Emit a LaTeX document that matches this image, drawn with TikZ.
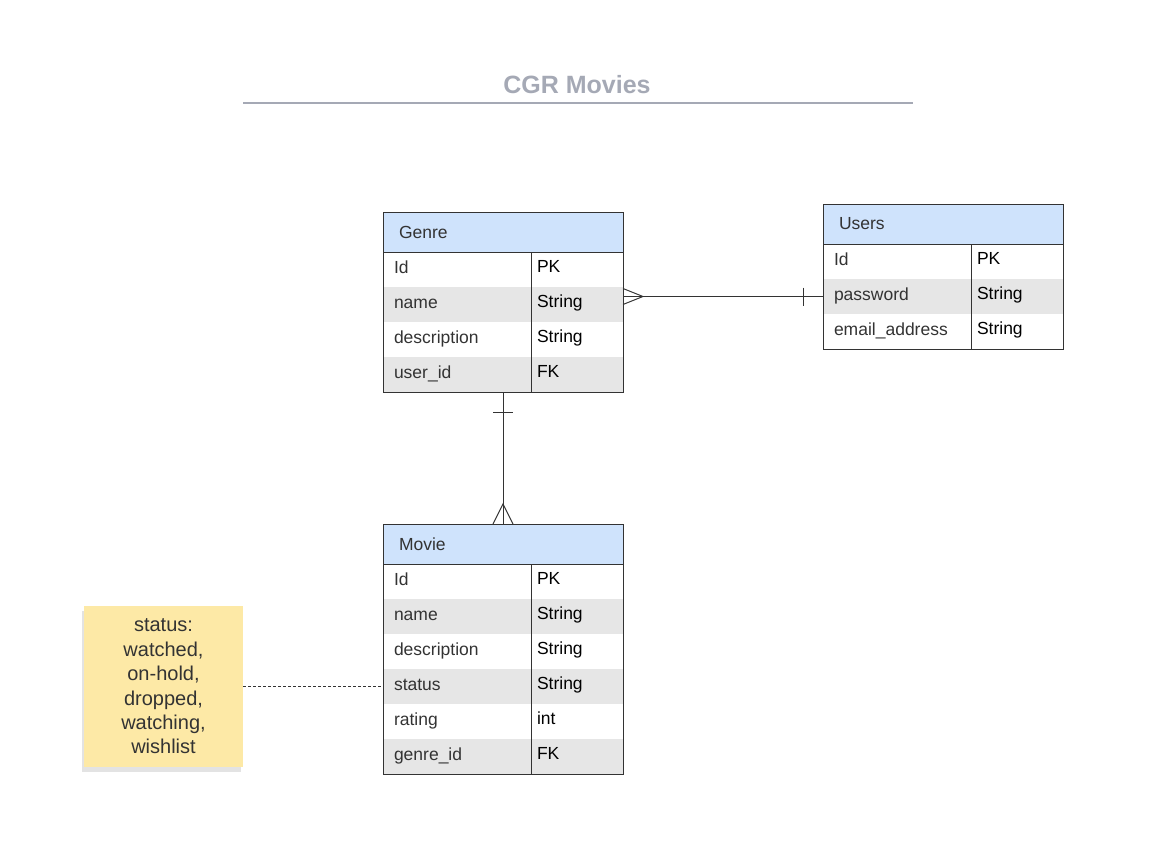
\documentclass[tikz,border=0pt]{standalone}
\usepackage{fontspec}
\setmainfont{Liberation Sans}
\usetikzlibrary{positioning,shadows}
\definecolor{hdrblue}{HTML}{CFE3FC}
\definecolor{rowgray}{HTML}{E6E6E6}
\definecolor{notey}{HTML}{FDE9A6}
\definecolor{titlegray}{HTML}{A5A9B5}
\definecolor{ink}{HTML}{333333}
\newcommand\cellfont{\fontsize{17.5}{20}\selectfont}
\tikzset{
  tblhead/.style={draw=ink, line width=1pt, fill=hdrblue, minimum width=240pt,
    minimum height=40pt, text width=208pt, inner xsep=16pt, inner ysep=0pt,
    outer sep=0pt, align=left, text=ink, font=\cellfont},
  fieldcell/.style={minimum height=35pt, text width=126pt, inner xsep=11pt,
    inner ysep=0pt, outer sep=0pt, align=left, text=ink, text height=12pt,
    text depth=4pt, font=\cellfont},
  typecell/.style={minimum height=35pt, text width=80pt, inner xsep=6pt,
    inner ysep=0pt, outer sep=0pt, align=left, text=black, text height=12pt,
    text depth=6pt, font=\cellfont},
  shaded/.style={fill=rowgray},
  frame/.style={draw=ink, line width=1pt},
  rel/.style={draw=ink, line width=1pt},
  stickynote/.style={fill=notey, minimum width=159pt, minimum height=161pt,
    outer sep=0pt, align=center, text=ink, font=\fontsize{20}{24.4}\selectfont,
    drop shadow={shadow xshift=-2pt, shadow yshift=-5pt, opacity=0.18, fill=black!60}}
}
\begin{document}
\begin{tikzpicture}[x=1pt, y=-1pt]
  \useasboundingbox (0,0) rectangle (1153,862);
  % title
  \node[text=titlegray, font=\bfseries\fontsize{25}{30}\selectfont] (title) at (577,85) {CGR Movies};
  \draw[titlegray, line width=2pt] (243,103) -- (913,103);

  % Genre
  \node[tblhead] (genre) at (503,232) {Genre};
  \node[fieldcell, anchor=north west] (g1) at (genre.south west) {Id};
  \node[typecell, right=0pt of g1] (gt1) {PK};
  \node[fieldcell, shaded, below=0pt of g1] (g2) {name};
  \node[typecell, shaded, right=0pt of g2] (gt2) {String};
  \node[fieldcell, below=0pt of g2] (g3) {description};
  \node[typecell, right=0pt of g3] (gt3) {String};
  \node[fieldcell, shaded, below=0pt of g3] (g4) {user\_id};
  \node[typecell, shaded, right=0pt of g4] (gt4) {FK};
  \draw[frame] (g1.north west) rectangle (gt4.south east);
  \draw[frame] (gt1.north west) -- (gt4.south west);

  % Users
  \node[tblhead] (users) at (943,224) {Users};
  \node[fieldcell, anchor=north west] (u1) at (users.south west) {Id};
  \node[typecell, right=0pt of u1] (ut1) {PK};
  \node[fieldcell, shaded, below=0pt of u1] (u2) {password};
  \node[typecell, shaded, right=0pt of u2] (ut2) {String};
  \node[fieldcell, below=0pt of u2] (u3) {email\_address};
  \node[typecell, right=0pt of u3] (ut3) {String};
  \draw[frame] (u1.north west) rectangle (ut3.south east);
  \draw[frame] (ut1.north west) -- (ut3.south west);

  % Movie
  \node[tblhead] (movie) at (503,544) {Movie};
  \node[fieldcell, anchor=north west] (m1) at (movie.south west) {Id};
  \node[typecell, right=0pt of m1] (mt1) {PK};
  \node[fieldcell, shaded, below=0pt of m1] (m2) {name};
  \node[typecell, shaded, right=0pt of m2] (mt2) {String};
  \node[fieldcell, below=0pt of m2] (m3) {description};
  \node[typecell, right=0pt of m3] (mt3) {String};
  \node[fieldcell, shaded, below=0pt of m3] (m4) {status};
  \node[typecell, shaded, right=0pt of m4] (mt4) {String};
  \node[fieldcell, below=0pt of m4] (m5) {rating};
  \node[typecell, right=0pt of m5] (mt5) {int};
  \node[fieldcell, shaded, below=0pt of m5] (m6) {genre\_id};
  \node[typecell, shaded, right=0pt of m6] (mt6) {FK};
  \draw[frame] (m1.north west) rectangle (mt6.south east);
  \draw[frame] (mt1.north west) -- (mt6.south west);

  % note
  \node[stickynote] (status) at (163.5,686.5) {status:\\watched,\\on-hold,\\dropped,\\watching,\\wishlist};
  \draw[ink, line width=0.8pt, dash pattern=on 3pt off 2pt] (status.east) -- (m4.west);

  % Genre -- Users
  \coordinate (gu) at (gt2.east |- u2.west);
  \draw[rel] (gu) -- (u2.west);
  \draw[rel] (gu) ++(0,-8) -- ++(20,8) -- ++(-20,8);
  \draw[rel] (u2.west) ++(-20,-9) -- ++(0,18);

  % Genre -- Movie
  \coordinate (gm) at (genre.south |- g4.south);
  \draw[rel] (gm) -- (movie.north);
  \draw[rel] (gm) ++(-10,20) -- ++(20,0);
  \draw[rel] (movie.north) ++(-10,0) -- ++(10,-20) -- ++(10,20);
\end{tikzpicture}
\end{document}
